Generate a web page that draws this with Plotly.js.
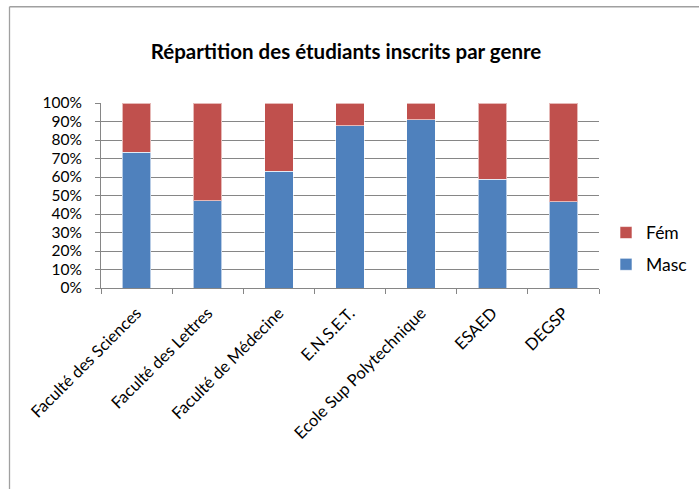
<!DOCTYPE html>
<html>
<head>
<meta charset="utf-8">
<script src="https://cdn.plot.ly/plotly-3.0.1.min.js"></script>
<style>html,body{margin:0;padding:0;background:#fff;}#chart{width:699px;height:489px;}</style>
</head>
<body>
<div id="chart"></div>
<script>
const categories = ["Faculté des Sciences", "Faculté des Lettres", "Faculté de Médecine", "E.N.S.E.T.", "Ecole Sup Polytechnique", "ESAED", "DEGSP"];
const masc = [0.735, 0.472, 0.631, 0.876, 0.910, 0.589, 0.465];
const fem = [0.265, 0.528, 0.369, 0.124, 0.090, 0.411, 0.535];
const yTicks = [0, 0.1, 0.2, 0.3, 0.4, 0.5, 0.6, 0.7, 0.8, 0.9, 1.0];
const yTickText = ["0%", "10%", "20%", "30%", "40%", "50%", "60%", "70%", "80%", "90%", "100%"];

const FONT = "Lato, 'Open Sans', 'Noto Sans', sans-serif";
const traces = [
  {type: 'bar', name: 'Masc', x: categories, y: masc, legendgroup: 'm', legendrank: 2,
   marker: {color: '#4F81BD', line: {color: 'rgba(255,255,255,0.6)', width: 1}}},
  {type: 'bar', name: 'Fém', x: categories, y: fem, legendgroup: 'f', legendrank: 1,
   marker: {color: '#C0504D', line: {color: 'rgba(255,255,255,0.6)', width: 1}}}
];
const L = 101, R = 100, T = 103, B = 200.5;
const W = 699 - L - R, H = 489 - T - B;
const layout = {
  width: 699, height: 489,
  margin: {l: L, r: R, t: T, b: B, pad: 0, autoexpand: false},
  paper_bgcolor: '#fff', plot_bgcolor: '#fff',
  barmode: 'stack', bargap: 0.6,
  showlegend: true,
  title: {text: '<b>Répartition des étudiants inscrits par genre</b>', x: 0.495, xanchor: 'center', y: 1 - 52/489, yanchor: 'middle',
          font: {family: FONT, size: 20.5, color: '#000'}},
  font: {family: FONT, size: 15, color: '#000'},
  xaxis: {type: 'category', tickangle: -45, tickson: 'boundaries', ticks: 'outside', ticklen: 5, tickcolor: '#868686',
          showline: true, linecolor: '#868686', linewidth: 1, showgrid: false, zeroline: false, ticklabelstandoff: 8,
          tickfont: {family: FONT, size: 16.5, color: '#000'}},
  yaxis: {range: [0, 1], tickvals: yTicks, ticktext: yTickText, ticks: 'outside', ticklen: 5, tickcolor: '#868686',
          showline: true, linecolor: '#868686', linewidth: 1, showgrid: true, gridcolor: '#868686', gridwidth: 1,
          zeroline: false, ticklabelstandoff: 10, tickfont: {family: FONT, size: 15.5, color: '#000'}},
  legend: {x: (606 - L) / W, xanchor: 'left', y: (489 - B - 215) / H, yanchor: 'top', traceorder: 'grouped',
           tracegroupgap: 6, font: {family: FONT, size: 17.5, color: '#000'}, bgcolor: 'rgba(0,0,0,0)', itemwidth: 30},
  shapes: [
    {type: 'line', xref: 'paper', yref: 'paper', x0: (9.5 - L) / W, x1: (9.5 - L) / W, y0: (489 - B - 6.5) / H, y1: (489 - B - 495) / H,
     line: {color: '#A0A0A0', width: 1.3}},
    {type: 'line', xref: 'paper', yref: 'paper', x0: (9.5 - L) / W, x1: (705 - L) / W, y0: (489 - B - 6.5) / H, y1: (489 - B - 6.5) / H,
     line: {color: '#A0A0A0', width: 1.3}}
  ]
};
Plotly.newPlot('chart', traces, layout, {displayModeBar: false, staticPlot: true});
</script>
</body>
</html>
